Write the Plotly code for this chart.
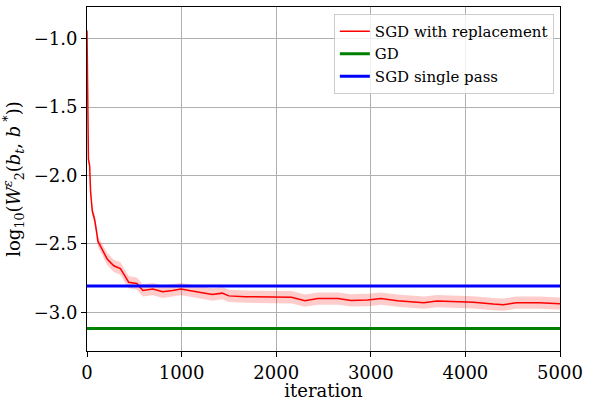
import plotly.graph_objects as go

iterations = [0, 10, 15, 28, 38, 56, 80, 101, 115, 160, 213, 283, 353, 405, 440, 527, 576,
              590, 695, 800, 905, 992, 1080, 1184, 1324, 1429, 1499, 1674, 1848, 2023, 2163,
              2303, 2442, 2652, 2791, 2966, 3106, 3281, 3386, 3561, 3700, 3910, 4085, 4294,
              4399, 4539, 4783, 5000]
sgd_replacement = [-0.94, -1.59, -1.88, -1.93, -2.12, -2.26, -2.32, -2.41, -2.48, -2.54, -2.61,
                   -2.66, -2.68, -2.74, -2.78, -2.79, -2.83, -2.84, -2.83, -2.85, -2.84, -2.83,
                   -2.84, -2.855, -2.87, -2.86, -2.88, -2.886, -2.886, -2.89, -2.89, -2.915,
                   -2.90, -2.90, -2.913, -2.91, -2.90, -2.915, -2.92, -2.93, -2.918, -2.92,
                   -2.927, -2.94, -2.944, -2.93, -2.93, -2.937]
sgd_spread = [0.01, 0.02, 0.025, 0.03, 0.03, 0.035, 0.035, 0.04, 0.04, 0.04, 0.045, 0.045, 0.045,
              0.045, 0.045, 0.045, 0.045, 0.045, 0.045, 0.045, 0.045, 0.045, 0.045, 0.045, 0.045,
              0.045, 0.045, 0.045, 0.045, 0.045, 0.045, 0.045, 0.045, 0.045, 0.045, 0.045, 0.045,
              0.045, 0.045, 0.045, 0.045, 0.045, 0.045, 0.045, 0.045, 0.045, 0.045, 0.045]
gd_value = -3.118
sgd_single_pass_value = -2.807
x_span = [0, 5000]
y_ticks = [-3.0, -2.5, -2.0, -1.5, -1.0]
x_ticks = [0, 1000, 2000, 3000, 4000, 5000]

FONT = "DejaVu Serif"

upper = [v + s for v, s in zip(sgd_replacement, sgd_spread)]
lower = [v - s for v, s in zip(sgd_replacement, sgd_spread)]

fig = go.Figure()
fig.add_trace(go.Scatter(x=iterations, y=upper, mode="lines", line=dict(width=0),
                         showlegend=False, hoverinfo="skip"))
fig.add_trace(go.Scatter(x=iterations, y=lower, mode="lines", line=dict(width=0),
                         fill="tonexty", fillcolor="rgba(255,0,0,0.2)",
                         showlegend=False, hoverinfo="skip"))
fig.add_trace(go.Scatter(x=iterations, y=sgd_replacement, mode="lines",
                         line=dict(color="#ff0000", width=1.5), name="SGD with replacement"))
fig.add_trace(go.Scatter(x=x_span, y=[gd_value] * 2, mode="lines",
                         line=dict(color="#008000", width=3), name="GD"))
fig.add_trace(go.Scatter(x=x_span, y=[sgd_single_pass_value] * 2, mode="lines",
                         line=dict(color="#0000ff", width=3), name="SGD single pass"))

axis_common = dict(showline=True, linecolor="black", linewidth=1, mirror=True,
                   showgrid=True, gridcolor="#b0b0b0", gridwidth=0.8,
                   ticks="outside", ticklen=5, tickcolor="black",
                   tickfont=dict(family=FONT, size=18, color="black"), zeroline=False,
                   ticklabeloverflow="allow")

fig.update_layout(
    width=589, height=401,
    margin=dict(l=87, r=23, t=6, b=47),
    paper_bgcolor="white", plot_bgcolor="white",
    font=dict(family=FONT, color="black"),
    xaxis=dict(range=[0, 5000], tickvals=x_ticks,
               title=dict(text="iteration", font=dict(family=FONT, size=18), standoff=0),
               **axis_common),
    yaxis=dict(range=[-3.283, -0.768], tickvals=y_ticks, tickformat=".1f",
               title=dict(text="log<sub>10</sub>(<i>W</i><sup><i>ε</i></sup><sub>2</sub>(<i>b<sub>t</sub></i>, <i>b</i><sup> *</sup>))",
                          font=dict(family=FONT, size=18), standoff=8),
               **axis_common),
    legend=dict(x=0.987, y=0.98, xanchor="right", yanchor="top", traceorder="normal",
                bgcolor="rgba(255,255,255,0.8)", bordercolor="#cccccc", borderwidth=1,
                font=dict(family=FONT, size=15), tracegroupgap=0, itemwidth=30),
    showlegend=True,
)

fig.write_html("out.html", config={"displayModeBar": False},
               post_script="document.body.style.margin='0';document.body.style.overflow='hidden';")
